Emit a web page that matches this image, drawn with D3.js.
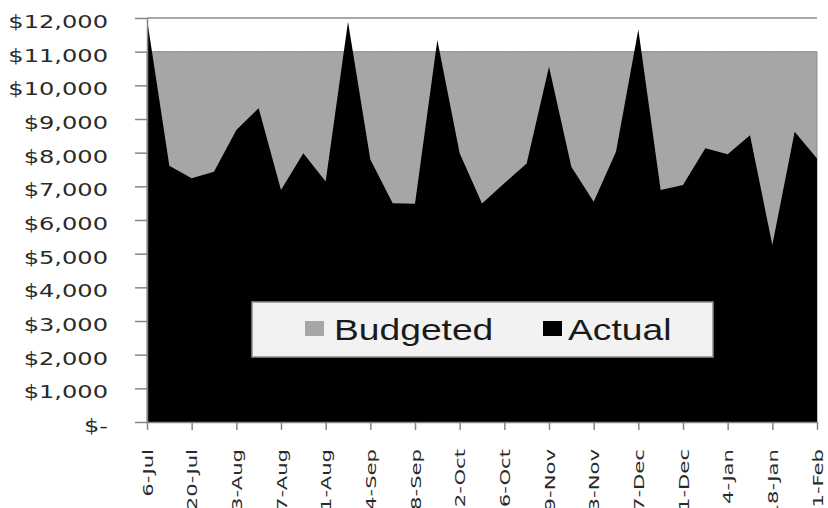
<!DOCTYPE html>
<html>
<head>
<meta charset="utf-8">
<title>Budgeted vs Actual</title>
<script src="https://d3js.org/d3.v7.min.js"></script>
<style>
  body { margin: 0; background: #fff; }
  svg { display: block; }
</style>
</head>
<body>
<script>
// weekly categories
var weeks = ["6-Jul","13-Jul","20-Jul","27-Jul","3-Aug","10-Aug","17-Aug","24-Aug","31-Aug",
  "7-Sep","14-Sep","21-Sep","28-Sep","5-Oct","12-Oct","19-Oct","26-Oct","2-Nov","9-Nov",
  "16-Nov","23-Nov","30-Nov","7-Dec","14-Dec","21-Dec","28-Dec","4-Jan","11-Jan","18-Jan",
  "25-Jan","1-Feb"];

var budgeted = [11000,11000,11000,11000,11000,11000,11000,11000,11000,11000,11000,11000,11000,
  11000,11000,11000,11000,11000,11000,11000,11000,11000,11000,11000,11000,11000,11000,11000,
  11000,11000,11000];

var actual = [11970,7610,7240,7430,8670,9320,6890,7980,7140,11890,7800,6500,6480,11350,7980,
  6490,7090,7680,10550,7580,6540,8030,11660,6890,7040,8130,7950,8520,5260,8620,7830];

var xTicks = ["6-Jul","20-Jul","3-Aug","17-Aug","31-Aug","14-Sep","28-Sep","12-Oct","26-Oct",
  "9-Nov","23-Nov","7-Dec","21-Dec","4-Jan","18-Jan","1-Feb"];

var yTicks = [0,1000,2000,3000,4000,5000,6000,7000,8000,9000,10000,11000,12000];
var yLabels = ["$-","$1,000","$2,000","$3,000","$4,000","$5,000","$6,000","$7,000","$8,000",
  "$9,000","$10,000","$11,000","$12,000"];

var seriesNames = ["Budgeted","Actual"];

var W = 828, H = 508;
var pLeft = 147, pRight = 817, pTop = 18, pBottom = 422;

var svg = d3.select("body").append("svg").attr("width", W).attr("height", H);

var x = d3.scalePoint().domain(weeks).range([pLeft, pRight]);
var y = d3.scaleLinear().domain([0, 12000]).range([pBottom, pTop]);

// stretch text along its run, like the picture
function stretch(sel, f) {
  sel.each(function() {
    var len = this.getComputedTextLength();
    d3.select(this).attr("textLength", len * f).attr("lengthAdjust", "spacingAndGlyphs");
  });
}

// top gridline
svg.append("line")
  .attr("x1", pLeft).attr("x2", pRight)
  .attr("y1", y(12000)).attr("y2", y(12000))
  .attr("stroke", "#8a8a8a").attr("stroke-width", 1.5);

var area = d3.area()
  .x(function(d, i) { return x(weeks[i]); })
  .y0(y(0))
  .y1(function(d) { return y(d); });

// budget area
svg.append("path")
  .datum(budgeted)
  .attr("d", area)
  .attr("fill", "#a6a6a6")
  .attr("stroke", "#8c8c8c")
  .attr("stroke-width", 1);

// actual area
svg.append("path")
  .datum(actual)
  .attr("d", area)
  .attr("fill", "#000");

// y axis
var yAxis = d3.axisLeft(y)
  .tickValues(yTicks)
  .tickFormat(function(d, i) { return yLabels[i]; })
  .tickSize(12)
  .tickSizeOuter(0)
  .tickPadding(27);

var gy = svg.append("g").attr("transform", "translate(" + pLeft + ",0)").call(yAxis);
gy.select(".domain").attr("stroke", "#868686").attr("stroke-width", 1.5);
gy.selectAll(".tick line").attr("stroke", "#868686").attr("stroke-width", 1.5);
gy.selectAll(".tick text")
  .attr("font-family", "DejaVu Sans")
  .attr("font-size", 18.4)
  .attr("fill", "#2a2a2a")
  .attr("dy", "0.51em")
  .call(stretch, 1.31);

// x axis
var xAxis = d3.axisBottom(x)
  .tickValues(xTicks)
  .tickSize(8)
  .tickSizeOuter(0)
  .tickPadding(0);

var gx = svg.append("g").attr("transform", "translate(0," + pBottom + ")").call(xAxis);
gx.select(".domain").attr("stroke", "#868686").attr("stroke-width", 1.5);
gx.selectAll(".tick line").attr("stroke", "#868686").attr("stroke-width", 1.5);
gx.selectAll(".tick text")
  .attr("font-family", "DejaVu Sans")
  .attr("font-size", 14.6)
  .attr("fill", "#2a2a2a")
  .attr("text-anchor", "end")
  .attr("transform", "translate(0,27) rotate(-90)")
  .attr("x", 0).attr("y", 0)
  .attr("dy", "0.35em")
  .call(stretch, 1.45);

// legend
var lg = svg.append("g");
lg.append("rect")
  .attr("x", 252).attr("y", 302).attr("width", 461).attr("height", 55)
  .attr("fill", "#f2f2f2").attr("stroke", "#8c8c8c").attr("stroke-width", 1.5);

var legItems = [
  {name: seriesNames[0], color: "#a6a6a6", sx: 305, tx: 334},
  {name: seriesNames[1], color: "#000", sx: 543, tx: 568}
];
legItems.forEach(function(d) {
  lg.append("rect").attr("x", d.sx).attr("y", 321).attr("width", 19).attr("height", 15)
    .attr("fill", d.color);
  lg.append("text").attr("x", d.tx).attr("y", 340)
    .attr("font-family", "Liberation Sans, Arial, sans-serif")
    .attr("font-size", 30)
    .attr("fill", "#1a1a1a")
    .text(d.name)
    .call(stretch, 1.24);
});
</script>
</body>
</html>
